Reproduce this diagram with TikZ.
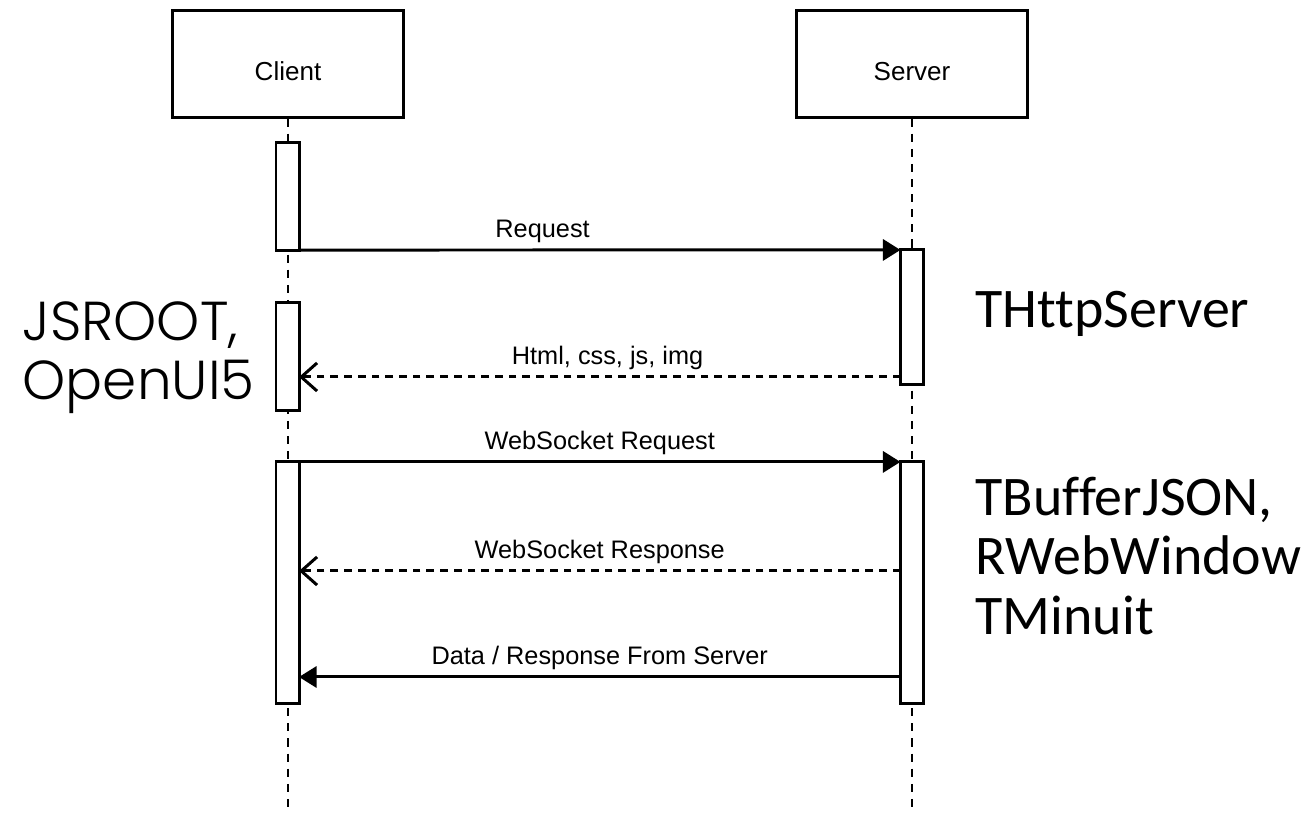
\documentclass[tikz,border=0pt]{standalone}
\usepackage{fontspec}
\setmainfont{Liberation Sans}
\newfontfamily\calfont{Carlito}[Ligatures=NoCommon]
\newfontfamily\geofont{Poppins Light}
\usetikzlibrary{arrows.meta}

\begin{document}
\begin{tikzpicture}[x=0.01cm, y=-0.01cm,
  lifebox/.style={draw, line width=0.85pt, minimum width=2.30cm, minimum height=1.06cm, text height=0.42cm, text depth=0.08cm, font=\fontsize{7.4}{9}\selectfont},
  actbar/.style={draw, fill=white, line width=0.85pt, minimum width=0.23cm, inner sep=0pt, outer sep=0pt},
  lifeline/.style={line width=0.7pt, dash pattern=on 2.3pt off 2pt},
  call/.style={line width=0.85pt, -{Triangle[length=5pt,width=6pt]}},
  reply/.style={line width=0.85pt, dash pattern=on 2.2pt off 1.7pt, -{Straight Barb[length=4.5pt,width=8pt]}},
  msg/.style={anchor=base, yshift=0.125cm, inner sep=0pt, font=\fontsize{7.2}{9}\selectfont},
  big/.style={align=left, inner sep=0pt, font=\calfont\fontsize{15.9}{17}\selectfont}]

\useasboundingbox (0,0) rectangle (1311,813);

% Lifelines
\node[lifebox] (client) at (288,64) {Client};
\node[lifebox] (server) at (912,64) {Server};

\coordinate (bottom) at (0,813);
\draw[lifeline] (client.south) -- (client.south |- bottom);
\draw[lifeline] (server.south) -- (server.south |- bottom);

% Activation bars
\node[actbar, minimum height=1.07cm] (ca1) at (287.5,196.5) {};
\node[actbar, minimum height=1.07cm] (ca2) at (287.5,356.5) {};
\node[actbar, minimum height=2.41cm] (ca3) at (287.5,582.5) {};
\node[actbar, minimum height=1.34cm] (sa1) at (912,317) {};
\node[actbar, minimum height=2.41cm] (sa2) at (912,582.5) {};

% Messages
\coordinate (m2) at (0,377);
\coordinate (m4) at (0,571);
\coordinate (m5) at (0,677);

\draw[call] (ca1.south east) -- node[msg, pos=0.405] {Request} (sa1.north west);
\draw[reply] (sa1.west |- m2) -- node[msg, pos=0.487] {Html, css, js, img} (ca2.east |- m2);
\draw[call] (ca3.north east) -- node[msg] {WebSocket Request} (sa2.north west);
\draw[reply] (sa2.west |- m4) -- node[msg] {WebSocket Response} (ca3.east |- m4);
\draw[call] (sa2.west |- m5) -- node[msg] {Data / Response From Server} (ca3.east |- m5);

% Side notes
\node[big, font=\geofont\fontsize{15.6}{16.8}\selectfont, anchor=west] (clientlibs) at (22,358) {JSROOT,\\OpenUI5};
\node[big, anchor=west] (httpsrv) at (975,314) {THttpServer};
\node[big, anchor=west] (jsonlibs) at (975,556) {TBufferJSON,\\RWebWindow\\TMinuit};

\end{tikzpicture}
\end{document}
